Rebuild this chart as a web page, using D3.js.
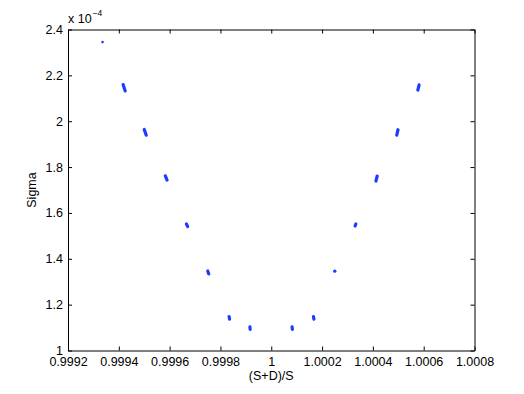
<!DOCTYPE html>
<html>
<head>
<meta charset="utf-8">
<script src="https://cdn.jsdelivr.net/npm/d3@7"></script>
<style>
  body { margin: 0; background: #fff; }
  svg text { font-family: "Liberation Sans", Arial, Helvetica, sans-serif; }
</style>
</head>
<body>
<div id="chart"></div>
<script>
// data: (S+D)/S against Sigma (x 1e-4), each run is one short dash
const ratio = [
  0.999336,
  0.999417, 0.999425,
  0.999500, 0.999508,
  0.999583, 0.999590,
  0.999666, 0.999671,
  0.999750, 0.999754,
  0.999834, 0.999836,
  0.999916, 0.999917,
  1.000082, 1.000083,
  1.000166, 1.000168,
  1.000250,
  1.000330, 1.000333,
  1.000412, 1.000417,
  1.000494, 1.000499,
  1.000577, 1.000582
];
const sigma = [
  2.345,
  2.160, 2.132,
  1.964, 1.939,
  1.762, 1.743,
  1.552, 1.541,
  1.347, 1.334,
  1.148, 1.137,
  1.103, 1.092,
  1.103, 1.092,
  1.148, 1.137,
  1.346,
  1.543, 1.552,
  1.739, 1.761,
  1.939, 1.963,
  2.136, 2.159
];
const run = [
  0, 1, 1, 2, 2, 3, 3, 4, 4, 5, 5, 6, 6, 7, 7,
  8, 8, 9, 9, 10, 11, 11, 12, 12, 13, 13, 14, 14
];

const xTicks = [0.9992, 0.9994, 0.9996, 0.9998, 1, 1.0002, 1.0004, 1.0006, 1.0008];
const xTickLabels = ["0.9992", "0.9994", "0.9996", "0.9998", "1", "1.0002", "1.0004", "1.0006", "1.0008"];
const yTicks = [1, 1.2, 1.4, 1.6, 1.8, 2, 2.2, 2.4];
const yTickLabels = ["1", "1.2", "1.4", "1.6", "1.8", "2", "2.2", "2.4"];

const width = 524;
const height = 394;
const margin = {top: 29.5, right: 49.5, bottom: 43.5, left: 68};
const innerWidth = width - margin.left - margin.right;
const innerHeight = height - margin.top - margin.bottom;
const markColor = "#1e3cff";
const fontSize = 12.5;

const xScale = d3.scaleLinear()
                  .domain([0.9992, 1.0008])
                  .range([0, innerWidth]);
const yScale = d3.scaleLinear()
                  .domain([1, 2.4])
                  .range([innerHeight, 0]);

const svg = d3.select("#chart")
                .append("svg")
                  .attr("width", width)
                  .attr("height", height);

const group = svg.append("g")
                  .attr("transform", `translate(${margin.left}, ${margin.top})`);

// ticks on all four sides, pointing inwards (matlab style)
const xAxis = group.append("g")
                  .attr("transform", `translate(0, ${innerHeight})`)
                  .call(d3.axisBottom(xScale)
                          .tickValues(xTicks)
                          .tickFormat((d, i) => xTickLabels[i])
                          .tickSizeInner(-4)
                          .tickSizeOuter(0)
                          .tickPadding(7));
const yAxis = group.append("g")
                  .call(d3.axisLeft(yScale)
                          .tickValues(yTicks)
                          .tickFormat((d, i) => yTickLabels[i])
                          .tickSizeInner(-4)
                          .tickSizeOuter(0)
                          .tickPadding(5));
group.append("g")
      .call(d3.axisTop(xScale).tickValues(xTicks).tickFormat("").tickSizeInner(-4).tickSizeOuter(0));
group.append("g")
      .attr("transform", `translate(${innerWidth}, 0)`)
      .call(d3.axisRight(yScale).tickValues(yTicks).tickFormat("").tickSizeInner(-4).tickSizeOuter(0));

group.selectAll(".domain").attr("stroke", "#000");
group.selectAll(".tick line").attr("stroke", "#000");
group.selectAll(".tick text")
      .attr("font-size", fontSize)
      .attr("fill", "#000")
      .attr("font-family", "Liberation Sans, Arial, sans-serif");

// exponent label
const expo = svg.append("text")
                .attr("x", margin.left)
                .attr("y", 23)
                .attr("font-size", fontSize)
                .attr("fill", "#000");
expo.append("tspan").text("x 10");
expo.append("tspan").text("\u22124").attr("font-size", 8.5).attr("dy", -7).attr("dx", 1);

svg.append("text")
    .text("(S+D)/S")
    .attr("x", margin.left + xScale(1))
    .attr("y", 380)
    .attr("text-anchor", "middle")
    .attr("font-size", fontSize);

svg.append("text")
    .text("Sigma")
    .attr("transform", "rotate(-90)")
    .attr("x", -(margin.top + innerHeight / 2))
    .attr("y", 36)
    .attr("text-anchor", "middle")
    .attr("font-size", fontSize);

// the dashes
const points = ratio.map((r, i) => ({r: r, s: sigma[i], run: run[i]}));
const runs = Array.from(d3.group(points, d => d.run).values());
const line = d3.line().x(d => xScale(d.r)).y(d => yScale(d.s));

group.selectAll("path.run")
      .data(runs)
      .enter()
        .append("path")
          .attr("class", "run")
          .attr("d", d => d.length > 1 ? line(d) : `M${xScale(d[0].r)},${yScale(d[0].s)}l0,0`)
          .attr("fill", "none")
          .attr("stroke", markColor)
          .attr("stroke-width", d => d.length > 1 ? 3.2 : (d[0].run === 0 ? 2.6 : 3.4))
          .attr("stroke-linecap", "round");
</script>
</body>
</html>
